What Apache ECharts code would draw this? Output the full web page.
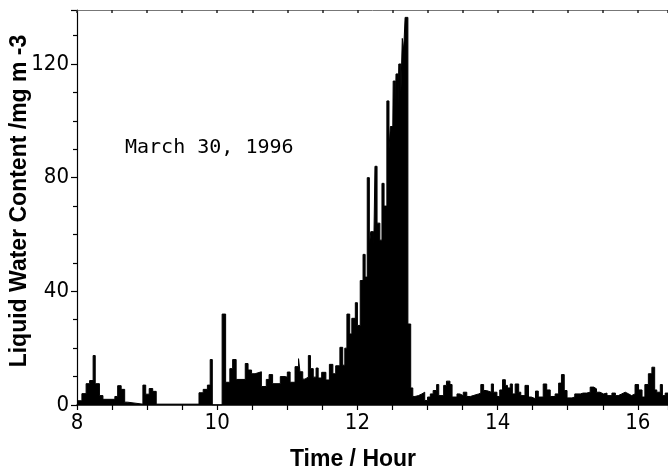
<!DOCTYPE html>
<html>
<head>
<meta charset="utf-8">
<script src="https://cdn.jsdelivr.net/npm/echarts@6/dist/echarts.min.js"></script>
<style>
  html, body { margin: 0; padding: 0; background: #fff; }
  #chart { width: 668px; height: 473px; }
</style>
</head>
<body>
<div id="chart"></div>
<script>
// step starts (hour) and liquid water content (mg m-3)
var earlyHours = [8.00, 8.07, 8.13, 8.18, 8.23, 8.26, 8.32, 8.37, 8.54, 8.58, 8.63, 8.68, 8.72, 8.94, 8.98, 9.03, 9.08, 9.13, 9.74, 9.80, 9.86, 9.90, 9.93, 10.07, 10.12];
var earlyLwc   = [1.5, 4, 7.5, 8.6, 17.4, 7.5, 3.3, 2, 3, 6.8, 5.5, 1, 0.3, 7, 3.8, 5.8, 4.8, 0.3, 4.3, 5.5, 7, 16, 0, 32, 8];

var preHours = [10.18, 10.22, 10.27, 10.40, 10.44, 10.49, 10.54, 10.63, 10.70, 10.74, 10.79, 10.90, 10.97, 11.00, 11.04, 11.11, 11.16, 11.18, 11.22, 11.25, 11.30, 11.33, 11.37, 11.41, 11.44, 11.49, 11.55, 11.60, 11.65, 11.69];
var preLwc   = [12.8, 16, 9, 14.6, 12.3, 11, 11.7, 6.5, 9, 10.7, 7.5, 10, 9.8, 11.6, 8, 13.5, 16.3, 11.7, 9.1, 9.8, 17.4, 12.8, 9.8, 13, 9.5, 11.5, 8.8, 14.3, 11, 13.8];

var peakHours = [11.75, 11.79, 11.82, 11.85, 11.89, 11.92, 11.97, 12.00, 12.04, 12.08, 12.11, 12.14, 12.17, 12.19, 12.23, 12.25, 12.28, 12.32, 12.35, 12.38, 12.42, 12.45, 12.47, 12.50, 12.51, 12.54, 12.55, 12.58, 12.59, 12.62, 12.64, 12.66, 12.68, 12.72];
var peakLwc   = [20.3, 14, 20, 32, 25, 30.5, 36, 28, 43.8, 53, 45, 80, 56, 61, 50, 84, 64, 58, 78, 70, 107, 90, 98, 85, 114, 100, 116.5, 105, 120, 110, 129, 125, 136.4, 28.5];

var lateHours = [12.76, 12.79, 12.82, 12.87, 12.92, 12.96,
  13.00, 13.04, 13.08, 13.13, 13.16, 13.23, 13.27, 13.32, 13.35, 13.42, 13.46, 13.51, 13.56, 13.61, 13.65, 13.73, 13.76, 13.80, 13.84, 13.91, 13.94, 13.99,
  14.03, 14.07, 14.11, 14.14, 14.18, 14.21, 14.25, 14.30, 14.33, 14.39, 14.44, 14.48, 14.54, 14.58, 14.65, 14.70, 14.75, 14.82, 14.87, 14.91, 14.95, 14.99,
  15.06, 15.10, 15.18, 15.22, 15.27, 15.32, 15.37, 15.41, 15.46, 15.51, 15.56, 15.63, 15.68, 15.72, 15.77, 15.82, 15.87, 15.91, 15.96,
  16.01, 16.06, 16.10, 16.15, 16.20, 16.24, 16.27, 16.32, 16.35, 16.39, 16.45];
var lateLwc = [6, 3, 3.3, 3.9, 4.5, 1.6,
  2.8, 3.9, 5.1, 7.2, 3.3, 6.9, 8.4, 7.2, 2.8, 3.9, 3.3, 4.5, 3.0, 3.3, 3.9, 4.2, 7.2, 5.1, 4.5, 7.4, 4.5, 3.0,
  5.3, 8.9, 6.9, 6.0, 7.4, 3.9, 7.4, 4.5, 3.3, 6.9, 2.8, 2.2, 4.9, 2.8, 7.4, 5.3, 3.0, 3.9, 7.7, 10.7, 5.1, 2.5,
  2.8, 3.9, 4.2, 4.2, 4.5, 6.3, 5.7, 4.5, 3.9, 4.2, 3.3, 4.2, 3.3, 3.9, 4.5, 3.9, 3.3, 3.9, 7.2,
  5.3, 2.8, 7.2, 11.0, 13.3, 5.3, 4.5, 7.2, 3.3, 4.2, 4.2];

var yLabels = [0, 40, 80, 120];
var xLabels = [8, 10, 12, 14, 16];

var hours = earlyHours.concat(preHours, peakHours, lateHours);
var lwc = earlyLwc.concat(preLwc, peakLwc, lateLwc);

// each value holds until the next time stamp: expand into a staircase
var seriesData = [];
hours.forEach(function (h, i) {
  if (i > 0) seriesData.push([h, lwc[i - 1]]);
  seriesData.push([h, lwc[i]]);
});

var tickFont = '"DejaVu Sans Condensed", "Liberation Sans Narrow", "DejaVu Sans", sans-serif';
var titleFont = '"Liberation Sans", Arial, sans-serif';

var chart = echarts.init(document.getElementById('chart'), null, { renderer: 'canvas' });
var option = {
  animation: false,
  backgroundColor: '#fff',
  grid: { left: 77, right: 0, top: 10, bottom: 68 },
  xAxis: [
    {
      type: 'value',
      min: 8,
      max: 16.43,
      interval: 2,
      position: 'bottom',
      axisLine: { lineStyle: { color: '#000', width: 1.5 } },
      axisTick: { show: true, inside: false, length: 5, lineStyle: { color: '#000', width: 1.2 } },
      minorTick: { show: true, splitNumber: 4, length: 5, lineStyle: { color: '#000', width: 1.2 } },
      axisLabel: {
        margin: 7, color: '#000', fontFamily: tickFont, fontSize: 22,
        formatter: function (v) { return xLabels.indexOf(v) >= 0 ? String(v) : ''; },
        showMaxLabel: false
      },
      splitLine: { show: false }
    },
    {
      type: 'value',
      min: 8,
      max: 16.43,
      interval: 0.5,
      position: 'top',
      axisLine: { show: true, lineStyle: { color: '#777', width: 1 } },
      axisTick: { show: true, inside: true, length: 3, lineStyle: { color: '#222', width: 1.5 } },
      axisLabel: { show: false },
      splitLine: { show: false }
    }
  ],
  yAxis: {
    type: 'value',
    min: 0,
    max: 139,
    interval: 40,
    axisLine: { show: true, lineStyle: { color: '#000', width: 1.2 } },
    axisTick: { show: true, inside: false, length: 6, lineStyle: { color: '#000', width: 1.2 } },
    minorTick: { show: true, splitNumber: 4, length: 4, lineStyle: { color: '#000', width: 1.2 } },
    axisLabel: {
      margin: 8, color: '#000', fontFamily: tickFont, fontSize: 22,
      formatter: function (v) { return yLabels.indexOf(v) >= 0 ? String(v) : ''; },
      showMaxLabel: false
    },
    splitLine: { show: false }
  },
  graphic: [
    {
      type: 'text',
      left: 125,
      top: 138,
      style: { text: 'March 30, 1996', fill: '#000', font: '20px "DejaVu Sans Mono", monospace' }
    },
    {
      type: 'text',
      x: 353,
      y: 460,
      style: { text: 'Time / Hour', fill: '#000', font: 'bold 23px ' + titleFont, align: 'center', verticalAlign: 'middle' }
    },
    {
      type: 'text',
      x: 20,
      y: 201,
      rotation: Math.PI / 2,
      style: { text: 'Liquid Water Content /mg m -3', fill: '#000', font: 'bold 23px ' + titleFont, align: 'center', verticalAlign: 'middle' }
    }
  ],
  series: [
    {
      type: 'line',
      symbol: 'none',
      data: seriesData,
      lineStyle: { color: '#000', width: 1 },
      areaStyle: { color: '#000', opacity: 1 }
    }
  ]
};
chart.setOption(option);
</script>
</body>
</html>
